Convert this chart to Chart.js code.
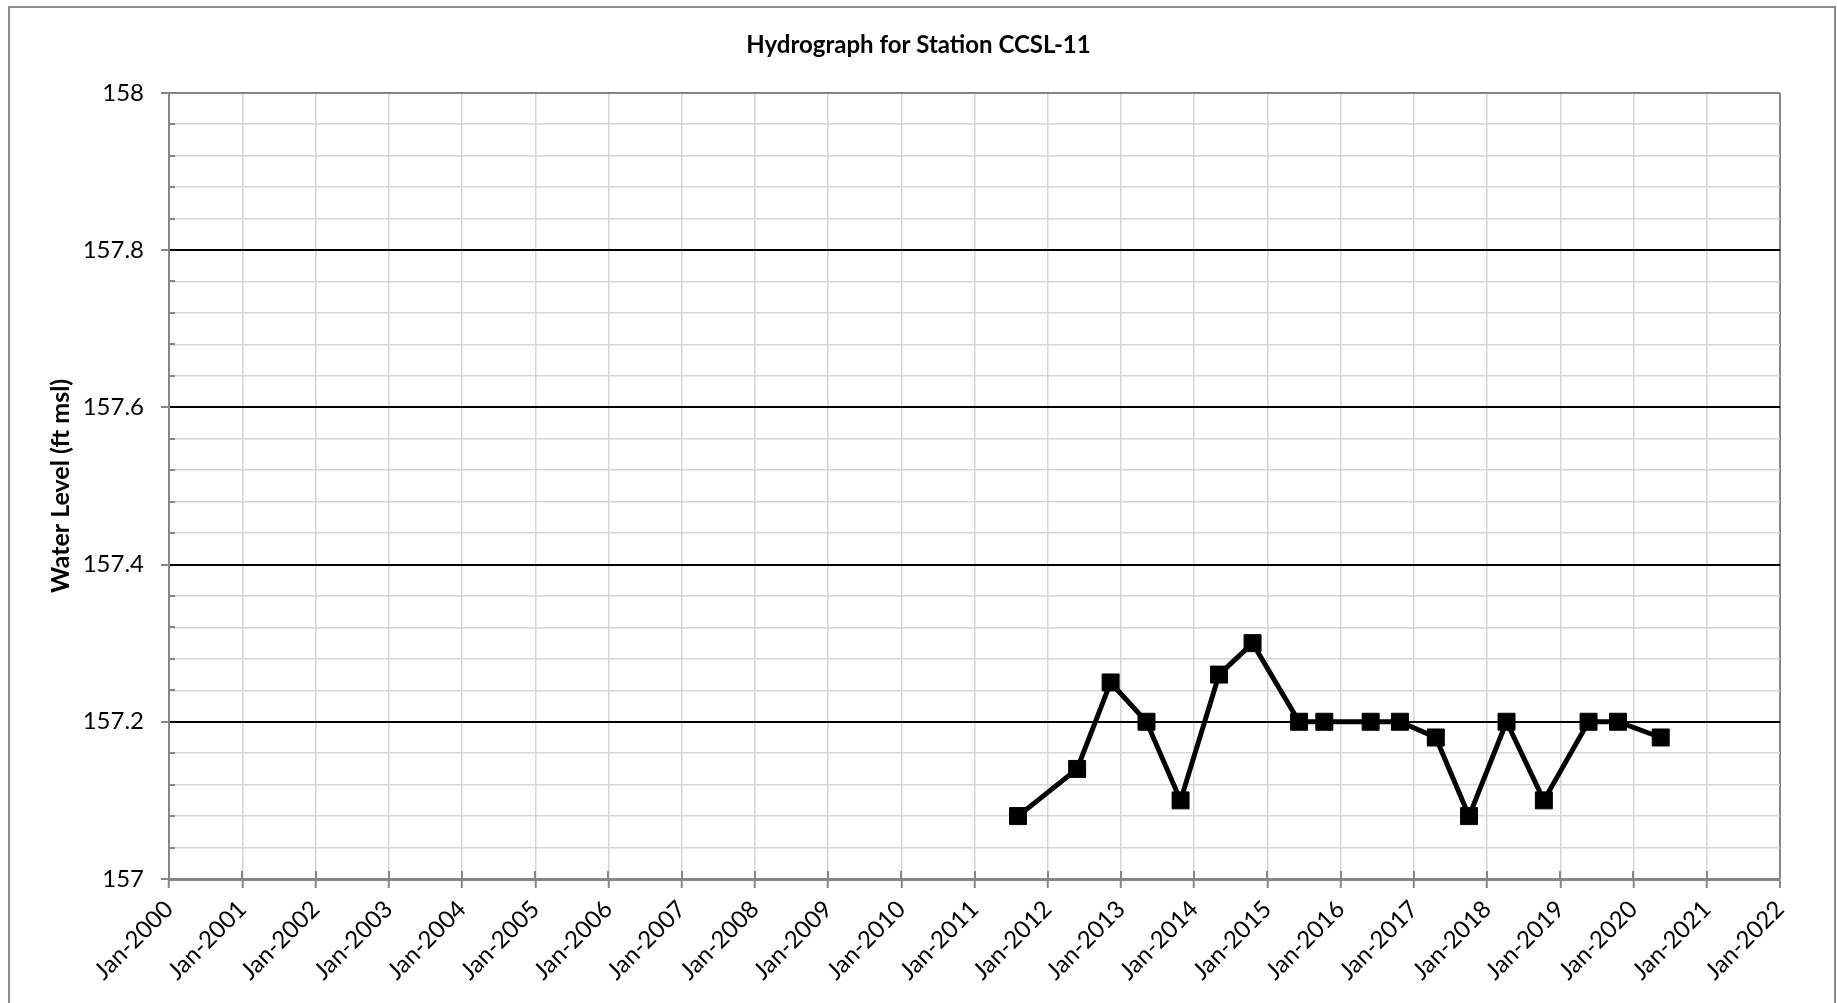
<!DOCTYPE html>
<html>
<head>
<meta charset="utf-8">
<title>Hydrograph for Station CCSL-11</title>
<script src="https://cdn.jsdelivr.net/npm/chart.js@4/dist/chart.umd.min.js"></script>
<style>
  html, body { margin: 0; padding: 0; background: #fff; overflow: hidden; }
  #frame {
    position: absolute; left: 8px; top: 6px;
    width: 1824px; height: 1020px;
    border: 2px solid #8c8c8c;
  }
  #chart { position: absolute; left: 0; top: 0; }
</style>
</head>
<body>
<div id="frame"></div>
<canvas id="chart" width="1837" height="1003"></canvas>
<script>
// Sample dates and water levels (ft msl)
const sampleDates = [
  '2011-08-06', '2012-05-27', '2012-11-10', '2013-05-08', '2013-10-25',
  '2014-05-05', '2014-10-19', '2015-06-08', '2015-10-12', '2016-05-30',
  '2016-10-23', '2017-04-20', '2017-10-03', '2018-04-08', '2018-10-11',
  '2019-05-22', '2019-10-16', '2020-05-16'
];
const waterLevels = [
  157.08, 157.14, 157.25, 157.20, 157.10,
  157.26, 157.30, 157.20, 157.20, 157.20,
  157.20, 157.18, 157.08, 157.20, 157.10,
  157.20, 157.20, 157.18
];

// axis ranges
const firstYear = 2000;
const lastYear = 2022;
const yMin = 157;
const yMax = 158;
const yMajorStep = 0.2;
const yMinorStep = 0.04;

const FONT = 'Lato, "Open Sans", sans-serif';
const GRID_LIGHT = '#d6d6d6';
const AXIS_GRAY = '#868686';

function toTime(s) {
  const p = s.split('-').map(Number);
  return Date.UTC(p[0], p[1] - 1, p[2]);
}

function isMajor(v) {
  const k = (v - yMin) / yMajorStep;
  return Math.abs(k - Math.round(k)) < 1e-6;
}

const points = sampleDates.map((d, i) => ({ x: toTime(d), y: waterLevels[i] }));

// small inner tick marks like the spreadsheet axis
const innerTicks = {
  id: 'innerTicks',
  afterDatasetsDraw(chart) {
    const { ctx, chartArea, scales } = chart;
    ctx.save();
    ctx.strokeStyle = AXIS_GRAY;
    ctx.lineWidth = 2;
    ctx.beginPath();
    scales.y.ticks.forEach(t => {
      if (isMajor(t.value)) return;
      const y = Math.round(scales.y.getPixelForValue(t.value));
      ctx.moveTo(chartArea.left, y);
      ctx.lineTo(chartArea.left + 6, y);
    });
    scales.x.ticks.forEach(t => {
      const x = Math.round(scales.x.getPixelForValue(t.value));
      ctx.moveTo(x, chartArea.bottom);
      ctx.lineTo(x, chartArea.bottom - 8);
    });
    ctx.stroke();
    ctx.restore();
  }
};

const ctx = document.getElementById('chart').getContext('2d');
const hydroChart = new Chart(ctx, {
  type: 'line',
  data: {
    datasets: [{
      label: 'CCSL-11',
      data: points,
      borderColor: '#000',
      backgroundColor: '#000',
      borderWidth: 5,
      tension: 0,
      pointStyle: 'rect',
      pointRadius: 12,
      pointBorderWidth: 1,
      pointBackgroundColor: '#000',
      pointBorderColor: '#000'
    }]
  },
  options: {
    responsive: false,
    animation: false,
    layout: { padding: 0 },
    plugins: {
      legend: { display: false },
      tooltip: { enabled: false },
      title: {
        display: true,
        text: 'Hydrograph for Station CCSL-11',
        color: '#000',
        font: { family: FONT, size: 24, weight: 'bold' },
        padding: { top: 31, bottom: 33 }
      }
    },
    scales: {
      x: {
        type: 'linear',
        min: Date.UTC(firstYear, 0, 1),
        max: Date.UTC(lastYear, 0, 1),
        afterBuildTicks(scale) {
          const t = [];
          for (let y = firstYear; y <= lastYear; y++) t.push({ value: Date.UTC(y, 0, 1) });
          scale.ticks = t;
        },
        afterFit(scale) { scale.height = 124; },
        border: { color: AXIS_GRAY, width: 3 },
        grid: {
          color: c => c.index === 0 ? 'rgba(0,0,0,0)' : (c.index === lastYear - firstYear ? AXIS_GRAY : GRID_LIGHT),
          lineWidth: c => c.index === lastYear - firstYear ? 2 : 1.5,
          tickColor: AXIS_GRAY,
          tickWidth: 2,
          tickLength: 9
        },
        ticks: {
          autoSkip: false,
          maxRotation: 45,
          minRotation: 45,
          padding: 7,
          color: '#000',
          font: { family: FONT, size: 24 },
          callback: v => 'Jan-' + new Date(v).getUTCFullYear()
        }
      },
      y: {
        min: yMin,
        max: yMax,
        afterBuildTicks(scale) {
          const t = [];
          const n = Math.round((yMax - yMin) / yMinorStep);
          for (let i = 0; i <= n; i++) t.push({ value: +(yMin + i * yMinorStep).toFixed(4) });
          scale.ticks = t;
        },
        afterFit(scale) { scale.width = 169; },
        border: { color: AXIS_GRAY, width: 2 },
        grid: {
          color: c => {
            const v = c.tick.value;
            if (Math.abs(v - yMax) < 1e-6) return AXIS_GRAY;
            return isMajor(v) ? '#000' : GRID_LIGHT;
          },
          lineWidth: c => isMajor(c.tick.value) ? 2 : 1.5,
          tickColor: c => isMajor(c.tick.value) ? AXIS_GRAY : 'rgba(0,0,0,0)',
          tickWidth: 2,
          tickLength: 8
        },
        ticks: {
          autoSkip: false,
          padding: 17,
          color: '#000',
          font: { family: FONT, size: 24 },
          callback: v => isMajor(v) ? String(+v.toFixed(1)) : ''
        },
        title: {
          display: true,
          text: 'Water Level (ft msl)',
          color: '#000',
          font: { family: FONT, size: 25, weight: 'bold' },
          padding: { top: 46, bottom: 0 }
        }
      },
      // empty right-hand box so the plot ends where the reference does
      yRight: {
        position: 'right',
        min: yMin,
        max: yMax,
        grid: { display: false },
        border: { display: false },
        ticks: { display: false },
        afterFit(scale) { scale.width = 57; }
      }
    }
  },
  plugins: [innerTicks]
});
</script>
</body>
</html>
